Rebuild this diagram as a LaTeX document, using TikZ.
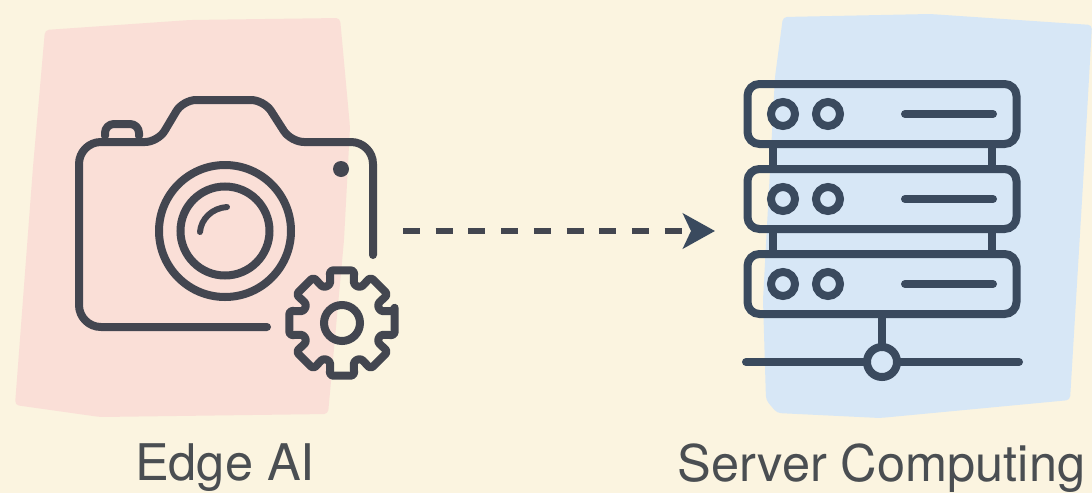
\documentclass[tikz,border=0pt]{standalone}
\usepackage{fontspec}
\setmainfont{TeX Gyre Heros}
\usetikzlibrary{arrows.meta, positioning, calc}
\definecolor{paper}{HTML}{FBF4E0}
\definecolor{edgepink}{HTML}{FADFD7}
\definecolor{serverblue}{HTML}{D7E7F6}
\definecolor{cameraink}{HTML}{434650}
\definecolor{serverink}{HTML}{3A4A5E}
\definecolor{labelink}{HTML}{4A4E52}

\begin{document}
\begin{tikzpicture}[x=1pt,y=-1pt]
    \tikzstyle{icon}=[line width=8pt,line cap=round,line join=round]
    \tikzstyle{camera line}=[icon,draw=cameraink]
    \tikzstyle{server line}=[icon,draw=serverink]
    \tikzstyle{rack}=[draw=serverink,line width=8pt,rounded corners=12pt,minimum width=269pt,minimum height=60pt,inner sep=0pt,outer sep=0pt]
    \tikzstyle{led}=[circle,draw=serverink,line width=8pt,minimum size=24pt,inner sep=0pt,outer sep=0pt]
    \tikzstyle{ring}=[circle,draw=cameraink,line width=8pt,inner sep=0pt,outer sep=0pt]
    \tikzstyle{annot}=[text=labelink,font=\fontsize{50.5}{54}\selectfont,inner sep=0pt]

    \useasboundingbox (0,0) rectangle (1092,493);
    \fill[paper] (0,0) rectangle (1092,493);

    % Draw the two colour patches
    \fill[edgepink,rounded corners=4pt] (45,30) -- (190,20) -- (340,18) -- (350,127) -- (344,240) -- (328,414) -- (100,417) -- (15,405) -- (33,167) -- cycle;
    \fill[serverblue,rounded corners=4pt] (783,17) -- (930,14) -- (1092,25) -- (1084,167) -- (1070,400) -- (880,418) -- (777,413) -- (766,400) -- (763,300) -- (775,77) -- cycle;

    % Draw the camera
    \draw[camera line,rounded corners=22pt] (373,255) -- (373,142) [rounded corners=13pt] -- (291,142) -- (264,100) -- (183,100) -- (158,142) [rounded corners=22pt] -- (79,142) -- (79,327) -- (267,327);
    \draw[camera line,rounded corners=9pt] (105,136) -- (105,124) -- (139,124) -- (139,136);
    \fill[cameraink] (341,169) circle (8);
    \node[ring,minimum size=132pt] (lens) at (225,231) {};
    \node[ring,minimum size=89pt] (glass) at (lens) {};
    \draw[camera line,line width=6pt] (200,232) .. controls (201,219) and (212,208) .. (227,207);

    % Draw the gear
    \draw[camera line,rounded corners=3pt] (342,323) ++(-13:54)
        \foreach \a in {0,45,...,315} {
            -- ($(342,323)+(\a-13:54)$) -- ($(342,323)+(\a+13:54)$) -- ($(342,323)+(\a+17:40)$) -- ($(342,323)+(\a+28:40)$)
        } -- cycle;
    \node[ring,minimum size=36pt] (hub) at (342,323) {};

    % Draw the server racks
    \foreach \name / \y in {1/114,2/199,3/284} {
        \node[rack] (R-\name) at (882,\y) {};
        \node[led] (A-\name) at (783,\y) {};
        \node[led] (B-\name) at (828,\y) {};
        \draw[server line] (905,\y) -- (993,\y);
    }
    \foreach \source / \dest in {1/2,2/3} {
        \draw[server line,line cap=butt] ([xshift=25pt]R-\source.south west) -- ([xshift=25pt]R-\dest.north west);
        \draw[server line,line cap=butt] ([xshift=-25pt]R-\source.south east) -- ([xshift=-25pt]R-\dest.north east);
    }

    % Draw the network under the racks
    \coordinate (netleft) at (746,362);
    \coordinate (netright) at (1019,362);
    \node[circle,minimum size=30pt,draw=serverink,fill=serverblue,line width=8pt,inner sep=0pt,outer sep=0pt] (hubnet) at (882,362) {};
    \draw[server line] (R-3.south) -- (hubnet.north);
    \draw[server line] (netleft) -- (hubnet.west);
    \draw[server line] (hubnet.east) -- (netright);

    % Draw the link
    \coordinate (edgeout) at (403,231);
    \coordinate (serverin) at (715,231);
    \draw[draw=cameraink,line width=6pt,dash pattern=on 17pt off 15.7pt,
        -{Stealth[length=32pt,width=35pt,inset=8pt,color=serverink]}] (edgeout) -- (serverin);

    % Draw the labels
    \node[annot] (edgelabel) at (225,468) {Edge AI};
    \node[annot] (serverlabel) at (881.5,468) {Server Computing};
\end{tikzpicture}
\end{document}
